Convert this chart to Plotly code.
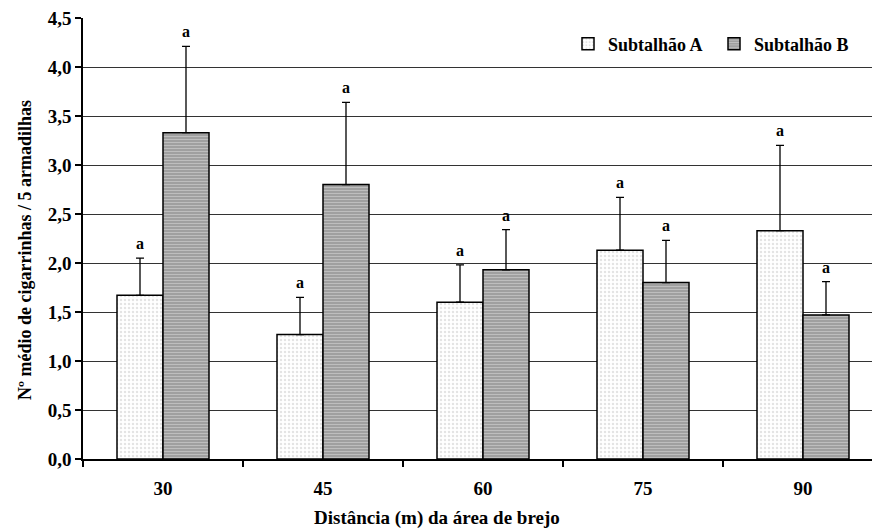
import plotly.graph_objects as go

categories = ["30", "45", "60", "75", "90"]
series_names = ["Subtalhão A", "Subtalhão B"]
vals_a = [1.67, 1.27, 1.60, 2.13, 2.33]
err_a = [0.38, 0.38, 0.38, 0.54, 0.87]
vals_b = [3.33, 2.80, 1.93, 1.80, 1.47]
err_b = [0.88, 0.84, 0.41, 0.43, 0.34]
letters_a = ["a", "a", "a", "a", "a"]
letters_b = ["a", "a", "a", "a", "a"]
y_ticks = [0, 0.5, 1.0, 1.5, 2.0, 2.5, 3.0, 3.5, 4.0, 4.5]

FONT = "Liberation Serif"
xpos = list(range(len(categories)))
L, W = 83, 789  # plot left edge and visible width in px
T, H = 18, 441

def px_x(p):
    return (p - L) / W

def px_y(p):
    return (T + H - p) / H

fig = go.Figure()
fig.add_trace(go.Bar(
    x=xpos, y=vals_a, name=f"<b>{series_names[0]}</b>", legend="legend",
    marker=dict(color="white", line=dict(color="black", width=1.5),
                pattern=dict(shape=".", fgcolor="#c8c8c8", bgcolor="white", size=4, solidity=0.3)),
    error_y=dict(type="data", symmetric=False, array=err_a, arrayminus=[0]*len(err_a),
                 color="black", thickness=1.3, width=4),
))
fig.add_trace(go.Bar(
    x=xpos, y=vals_b, name=f"<b>{series_names[1]}</b>", legend="legend2",
    marker=dict(color="#a8a8a8", line=dict(color="black", width=1.5),
                pattern=dict(shape="-", fgcolor="#dcdcdc", bgcolor="#a0a0a0", size=3, solidity=0.35)),
    error_y=dict(type="data", symmetric=False, array=err_b, arrayminus=[0]*len(err_b),
                 color="black", thickness=1.3, width=4),
))

off = 0.14375
for i in xpos:
    fig.add_annotation(x=i - off, y=vals_a[i] + err_a[i], text=f"<b>{letters_a[i]}</b>",
                       showarrow=False, yanchor="bottom", yshift=4,
                       font=dict(family=FONT, size=16, color="black"))
    fig.add_annotation(x=i + off, y=vals_b[i] + err_b[i], text=f"<b>{letters_b[i]}</b>",
                       showarrow=False, yanchor="bottom", yshift=4,
                       font=dict(family=FONT, size=16, color="black"))

fig.add_annotation(xref="x domain", yref="y domain",
                   x=px_x(437), y=px_y(518), xanchor="center", yanchor="middle",
                   text="<b>Distância (m) da área de brejo</b>",
                   showarrow=False, font=dict(family=FONT, size=19, color="black"))
fig.add_annotation(xref="x domain", yref="y domain",
                   x=px_x(25), y=px_y(250), xanchor="center", yanchor="middle", textangle=-90,
                   text="<b>Nº médio de cigarrinhas / 5 armadilhas</b>",
                   showarrow=False, font=dict(family=FONT, size=18, color="black"))

leg_common = dict(orientation="h", yanchor="middle", y=px_y(44), xanchor="left",
                  font=dict(family=FONT, size=18, color="black"), bgcolor="rgba(0,0,0,0)",
                  itemwidth=30)
fig.update_layout(
    width=872, height=531,
    margin=dict(l=L, r=0, t=T, b=72),
    paper_bgcolor="white", plot_bgcolor="white",
    barmode="group", bargap=0.425, bargroupgap=0,
    separators=",.",
    font=dict(family=FONT, size=18, color="black"),
    showlegend=True,
    legend=dict(x=px_x(568), **leg_common),
    legend2=dict(x=px_x(714), **leg_common),
)
fig.update_xaxes(
    range=[-0.5, 4.5 - 11 / 160], tickvals=xpos, ticktext=[f"<b>{c}</b>" for c in categories],
    ticks="", showgrid=False, showline=True, linecolor="black", linewidth=1.5,
    tickfont=dict(family=FONT, size=19, color="black"), ticklabelstandoff=11,
    minor=dict(tickvals=[k - 0.5 for k in range(len(categories) + 1)], ticks="outside", ticklen=6,
               tickcolor="black", tickwidth=1.5, showgrid=False),
    zeroline=False,
)
fig.update_yaxes(
    range=[0, 4.5], tickvals=y_ticks, ticktext=[f"<b>{v:.1f}</b>".replace(".", ",") for v in y_ticks],
    ticks="outside", ticklen=6, tickcolor="black", tickwidth=1.5,
    showgrid=True, gridcolor="#333333", gridwidth=1,
    showline=True, linecolor="black", linewidth=1.5, zeroline=False,
    tickfont=dict(family=FONT, size=19, color="black"),
)

fig.write_html("out.html")
